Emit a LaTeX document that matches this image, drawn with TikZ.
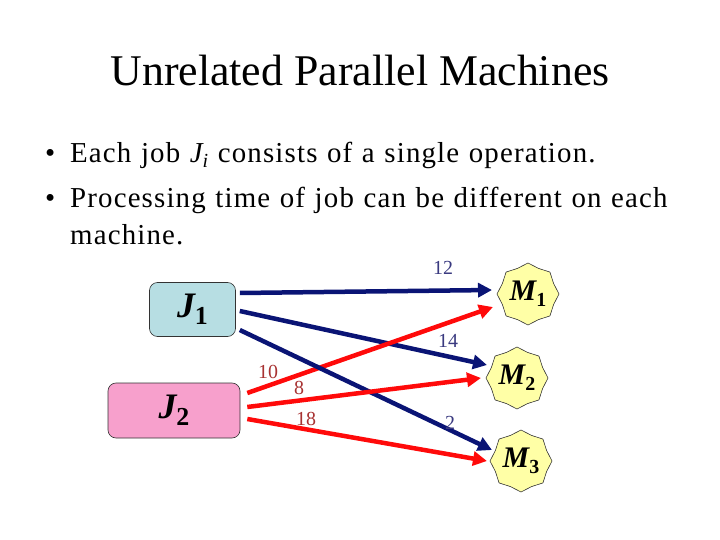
\documentclass[tikz,border=0pt]{standalone}
\usepackage{fontspec}
\setmainfont{Liberation Serif}
\newfontfamily\bodyfont[LetterSpace=4,WordSpace=1.15]{Liberation Serif}
\usetikzlibrary{shapes.geometric,arrows.meta,calc}
\definecolor{jonefill}{HTML}{B7DEE3}
\definecolor{jtwofill}{HTML}{F7A0CC}
\definecolor{mfill}{HTML}{FFFFA6}
\definecolor{bluearrow}{HTML}{0A1475}
\definecolor{redarrow}{HTML}{FF0A0A}
\definecolor{bluelab}{HTML}{3A3A80}
\definecolor{redlab}{HTML}{A83232}
\newcommand{\jlbl}[2]{\bfseries\itshape #1\raisebox{-0.45ex}{\upshape\fontsize{26}{26}\selectfont #2}}
\newcommand{\mlbl}[2]{\bfseries\itshape #1\raisebox{-0.45ex}{\upshape\fontsize{20}{20}\selectfont #2}}
\tikzset{
  jobbox/.style={draw=black!80, line width=0.6pt, rounded corners=8bp, inner sep=0pt},
  machine/.style={star, star points=8, star point ratio=1.12, draw=black!80, line width=0.6pt, fill=mfill, minimum size=62bp, inner sep=0pt},
  bluearr/.style={draw=bluearrow, line width=4.5bp, -{Triangle[length=14bp,width=14bp]}},
  redarr/.style={draw=redarrow, line width=4.5bp, -{Triangle[length=14bp,width=14bp]}},
  bluetxt/.style={text=bluelab, font=\fontsize{20}{20}\selectfont, inner sep=0pt},
  redtxt/.style={text=redlab, font=\fontsize{20}{20}\selectfont, inner sep=0pt},
  bodytxt/.style={anchor=base west, inner sep=0pt, font=\bodyfont\fontsize{29}{34}\selectfont}
}
\begin{document}
\begin{tikzpicture}[x=1bp,y=-1bp]
\useasboundingbox (0,0) rectangle (720,540);
\node[anchor=base, inner sep=0pt, font=\fontsize{44}{52}\selectfont] (title) at (360,86) {Unrelated Parallel Machines};
\node[bodytxt] (b1) at (45,163) {•};
\node[bodytxt] (t1) at (70,163) {Each job \textit{J\raisebox{-0.35ex}{\fontsize{20}{20}\selectfont i}} consists of a single operation.};
\node[bodytxt] (b2) at (45,208) {•};
\node[bodytxt] (t2) at (70,208) {Processing time of job can be different on each};
\node[bodytxt] (t3) at (70,245) {machine.};

\node[jobbox, fill=jonefill, minimum width=86bp, minimum height=54bp] (J1) at (192.5,309.5) {\fontsize{36}{36}\selectfont\jlbl{J}{1}};
\node[jobbox, fill=jtwofill, minimum width=132bp, minimum height=55bp] (J2) at (174,410.5) {\fontsize{36}{36}\selectfont\jlbl{J}{2}};

\node[machine] (M1) at (528,294) {\fontsize{30}{30}\selectfont\mlbl{M}{1}};
\node[machine] (M2) at (517,378) {\fontsize{30}{30}\selectfont\mlbl{M}{2}};
\node[machine] (M3) at (521,461) {\fontsize{30}{30}\selectfont\mlbl{M}{3}};

\draw[bluearr] ($(J1.east)+(4,-16.5)$) -- ($(M1.center)+(-36,-4)$);
\draw[bluearr] ($(J1.east)+(4,1.5)$) -- ($(M2.center)+(-30,-13)$);
\draw[redarr] ($(J2.east)+(7,-17.5)$) -- ($(M1.center)+(-35,13)$);
\draw[bluearr] ($(J1.east)+(4,20.5)$) -- ($(M3.center)+(-29,-11)$);
\draw[redarr] ($(J2.east)+(7,-3.5)$) -- ($(M2.center)+(-36,0)$);
\draw[redarr] ($(J2.east)+(7,8.5)$) -- ($(M3.center)+(-34,0)$);

\node[bluetxt] (l12) at (443,268) {12};
\node[bluetxt] (l14) at (448,341) {14};
\node[bluetxt] (l2) at (450,423) {2};
\node[redtxt] (l10) at (268,372) {10};
\node[redtxt] (l8) at (299,388) {8};
\node[redtxt] (l18) at (306,419) {18};
\end{tikzpicture}
\end{document}
